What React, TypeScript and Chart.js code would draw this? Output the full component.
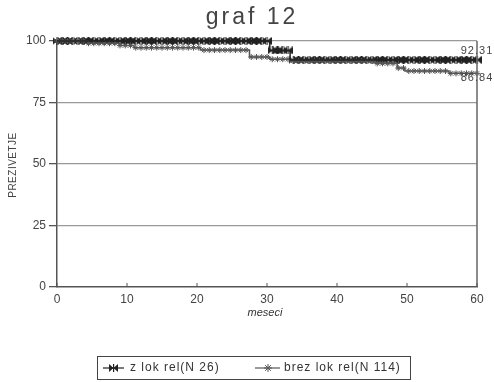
import React, { useEffect, useRef } from "react";
import { Chart, registerables } from "chart.js";
Chart.register(...registerables);

const chartTitle = "graf 12";
const yTitle = "PREZIVETJE";
const xTitle = "meseci";
const seriesNames = ["z lok rel(N 26)", "brez lok rel(N 114)"];
const xTicks = [0, 10, 20, 30, 40, 50, 60];
const yTicks = [0, 25, 50, 75, 100];
// step survival curves (time in months, survival %)
const s1Times = [0, 30.4, 33.3, 60];
const s1Values = [100, 96.15, 92.31, 92.31];
const s2Times = [0, 4.5, 9, 11, 20.5, 27.5, 30.4, 33.3, 45.5, 48.6, 49.7, 56, 60];
const s2Values = [100, 99.1, 98.2, 97.3, 96.3, 93.5, 92.6, 91.9, 90.9, 89.0, 87.8, 86.84, 86.84];
// censoring marker months
const markMonths = [
  0, 0.75, 1.5, 2.25, 3, 3.75, 4.5, 5.25, 6, 6.75, 7.5, 8.25, 9, 9.75, 10.5, 11.25, 12, 12.75,
  13.5, 14.25, 15, 15.75, 16.5, 17.25, 18, 18.75, 19.5, 20.25, 21, 21.75, 22.5, 23.25, 24,
  24.75, 25.5, 26.25, 27, 27.75, 28.5, 29.25, 30, 30.75, 31.5, 32.25, 33, 33.75, 34.5, 35.25,
  36, 36.75, 37.5, 38.25, 39, 39.75, 40.5, 41.25, 42, 42.75, 43.5, 44.25, 45, 45.75, 46.5,
  47.25, 48, 48.75, 49.5, 50.25, 51, 51.75, 52.5, 53.25, 54, 54.75, 55.5, 56.25, 57, 57.75,
  58.5, 59.25, 60,
];
const endLabels = ["92.31", "86.84"];

const FONT = '"Liberation Sans", Arial, sans-serif';

function stepAt(times: number[], values: number[], t: number) {
  let v = values[0];
  for (let i = 0; i < times.length; i++) if (times[i] <= t) v = values[i];
  return v;
}

function makeBowtie(color: string) {
  const c = document.createElement("canvas");
  c.width = 9;
  c.height = 8;
  const g = c.getContext("2d")!;
  g.fillStyle = color;
  g.beginPath();
  g.moveTo(0, 0);
  g.lineTo(4.5, 4);
  g.lineTo(0, 8);
  g.closePath();
  g.fill();
  g.beginPath();
  g.moveTo(9, 0);
  g.lineTo(4.5, 4);
  g.lineTo(9, 8);
  g.closePath();
  g.fill();
  g.fillRect(4, 0, 1.2, 8);
  return c;
}

function drawStar(ctx: CanvasRenderingContext2D, x: number, y: number, r: number) {
  ctx.beginPath();
  for (let k = 0; k < 4; k++) {
    const ang = (k * Math.PI) / 4;
    ctx.moveTo(x - Math.cos(ang) * r, y - Math.sin(ang) * r);
    ctx.lineTo(x + Math.cos(ang) * r, y + Math.sin(ang) * r);
  }
  ctx.stroke();
}

export default function App() {
  const ref = useRef<HTMLCanvasElement>(null);
  useEffect(() => {
    const bow = makeBowtie("#222");
    const c1 = "#222";
    const c2 = "#555";
    const decor = {
      id: "decor",
      afterDraw(chart: any) {
        const ctx = chart.ctx;
        const a = chart.chartArea;
        const xs = chart.scales.x;
        const ys = chart.scales.y;
        ctx.save();
        // title
        ctx.fillStyle = "#444";
        ctx.font = `23px ${FONT}`;
        (ctx as any).letterSpacing = "3px";
        ctx.textAlign = "center";
        ctx.textBaseline = "middle";
        ctx.fillText(chartTitle, 252, 18);
        (ctx as any).letterSpacing = "0px";
        // y title
        ctx.save();
        ctx.translate(13, 165);
        ctx.rotate(-Math.PI / 2);
        ctx.font = `10px ${FONT}`;
        ctx.fillStyle = "#444";
        (ctx as any).letterSpacing = "0.5px";
        ctx.fillText(yTitle, 0, 0);
        (ctx as any).letterSpacing = "0px";
        ctx.restore();
        // x title
        ctx.font = `italic 11px ${FONT}`;
        ctx.fillStyle = "#333";
        ctx.fillText(xTitle, 265, 313);
        // right border
        ctx.strokeStyle = "#666";
        ctx.lineWidth = 1.5;
        ctx.beginPath();
        ctx.moveTo(a.right, a.top);
        ctx.lineTo(a.right, a.bottom);
        ctx.stroke();
        // x tick marks (upward)
        ctx.lineWidth = 1;
        ctx.strokeStyle = "#555";
        xTicks.forEach((t) => {
          const px = xs.getPixelForValue(t);
          ctx.beginPath();
          ctx.moveTo(px, a.bottom);
          ctx.lineTo(px, a.bottom - 4);
          ctx.stroke();
        });
        // end labels
        ctx.font = `11px ${FONT}`;
        ctx.fillStyle = "#444";
        (ctx as any).letterSpacing = "1px";
        const ex = xs.getPixelForValue(60);
        ctx.fillText(endLabels[0], ex, ys.getPixelForValue(s1Values[s1Values.length - 1]) - 9);
        ctx.fillText(endLabels[1], ex, ys.getPixelForValue(s2Values[s2Values.length - 1]) + 5);
        (ctx as any).letterSpacing = "0px";
        // legend
        ctx.strokeStyle = "#444";
        ctx.lineWidth = 1;
        ctx.strokeRect(97.5, 356.5, 313, 23);
        const ly = 368;
        ctx.lineWidth = 1.2;
        ctx.strokeStyle = c1;
        ctx.beginPath();
        ctx.moveTo(103, ly);
        ctx.lineTo(124, ly);
        ctx.stroke();
        ctx.drawImage(bow, 113.5 - 4.5, ly - 4);
        ctx.strokeStyle = c2;
        ctx.beginPath();
        ctx.moveTo(255, ly);
        ctx.lineTo(280, ly);
        ctx.stroke();
        ctx.lineWidth = 1;
        drawStar(ctx, 268, ly, 4);
        ctx.font = `12px ${FONT}`;
        ctx.fillStyle = "#333";
        ctx.textAlign = "left";
        (ctx as any).letterSpacing = "1px";
        ctx.fillText(seriesNames[0], 130, ly);
        ctx.fillText(seriesNames[1], 284, ly);
        (ctx as any).letterSpacing = "0px";
        ctx.restore();
      },
    };
    const chart = new Chart(ref.current!, {
      type: "line",
      data: {
        datasets: [
          {
            label: seriesNames[0],
            data: s1Times.map((t, i) => ({ x: t, y: s1Values[i] })),
            stepped: "before",
            borderColor: c1,
            borderWidth: 1.5,
            pointRadius: 0,
            clip: false,
          },
          {
            label: seriesNames[1],
            data: s2Times.map((t, i) => ({ x: t, y: s2Values[i] })),
            stepped: "before",
            borderColor: c2,
            borderWidth: 1.5,
            pointRadius: 0,
            clip: false,
          },
          {
            label: "m2",
            data: markMonths.map((t) => ({ x: t, y: stepAt(s2Times, s2Values, t) })),
            showLine: false,
            pointStyle: "star",
            pointRadius: 3,
            borderWidth: 1,
            borderColor: c2,
            clip: false,
          },
          {
            label: "m1",
            data: markMonths.map((t) => ({ x: t, y: stepAt(s1Times, s1Values, t) })),
            showLine: false,
            pointStyle: bow as any,
            pointRadius: 4,
            borderColor: c1,
            clip: false,
          },
        ] as any,
      },
      options: {
        animation: false,
        responsive: false,
        events: [],
        layout: { padding: { left: 0, top: 41, right: 17, bottom: 70 } },
        plugins: { legend: { display: false }, title: { display: false }, tooltip: { enabled: false } },
        scales: {
          x: {
            type: "linear",
            min: 0,
            max: 60,
            afterFit: (s: any) => {
              s.height = 25;
            },
            afterBuildTicks: (s: any) => {
              s.ticks = xTicks.map((v) => ({ value: v }));
            },
            ticks: { font: { size: 12, family: FONT }, color: "#444", padding: 5, maxRotation: 0 },
            grid: { drawOnChartArea: false, drawTicks: false },
            border: { color: "#555", width: 1.5 },
          },
          y: {
            type: "linear",
            min: 0,
            max: 100,
            afterFit: (s: any) => {
              s.width = 57;
            },
            afterBuildTicks: (s: any) => {
              s.ticks = yTicks.map((v) => ({ value: v }));
            },
            ticks: { font: { size: 12, family: FONT }, color: "#444", padding: 3 },
            grid: {
              color: (c: any) => (c.tick && c.tick.value === 0 ? "rgba(0,0,0,0)" : "#999"),
              lineWidth: 1.3,
              tickColor: "#555",
              tickLength: 8,
            },
            border: { color: "#555", width: 1.5 },
          },
        },
      } as any,
      plugins: [decor],
    });
    return () => chart.destroy();
  }, []);
  return (
    <div style={{ position: "absolute", left: 0, top: 0, width: 494, height: 382, background: "#fff" }}>
      <canvas ref={ref} width={494} height={382} style={{ width: 494, height: 382, display: "block" }} />
    </div>
  );
}
